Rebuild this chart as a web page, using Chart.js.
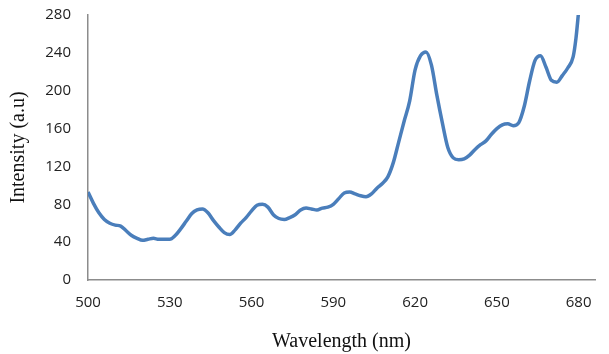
<!DOCTYPE html>
<html>
<head>
<meta charset="utf-8">
<script src="https://cdn.jsdelivr.net/npm/chart.js@4/dist/chart.umd.min.js"></script>
<style>
html,body{margin:0;padding:0;background:#fff;}
#wrap{width:609px;height:354px;position:relative;}
</style>
</head>
<body>
<div id="wrap"><canvas id="c" width="609" height="354"></canvas></div>
<script>
const wavelengths = [500,502,504,506,508,510,512,514,516,518,520,522,524,526,528,530,532,534,536,538,540,542,544,546,548,550,552,554,556,558,560,562,564,566,568,570,572,574,576,578,580,582,584,586,588,590,592,594,596,598,600,602,604,606,608,610,612,614,616,618,620,622,624,626,628,630,632,634,636,638,640,642,644,646,648,650,652,654,656,658,660,662,664,666,668,670,672,674,676,678,679,680];
const intensity = [93,81,71,64,60,58,57,52,47,44,42,43,44,43,43,43,47,54,62,70,74,75,71,63,56,50,48,53,60,66,73,79,80,77,69,65,64,66,69,74,76,75,74,76,77,80,86,92,93,91,89,88,91,97,102,109,124,146,168,189,222,237,241,227,195,166,140,129,127,128,132,138,143,147,154,160,164,165,163,166,183,210,232,237,225,211,209,216,224,236,255,284];
const xTicks = [500,530,560,590,620,650,680];
const yTicks = [0,40,80,120,160,200,240,280];
const xMin = 500, xMax = 686, yMin = 0, yMax = 280;

const points = wavelengths.map((w,i)=>({x:w,y:intensity[i]}));
const axisColor = '#8c8c8c';
const tickFont = {family:'"Open Sans", sans-serif', size:15};
const titleFont = {family:'"Liberation Serif", "Times New Roman", serif', size:20};

new Chart(document.getElementById('c'), {
  type:'scatter',
  data:{datasets:[{
    data:points,
    showLine:true,
    borderColor:'#4a7ebb',
    borderWidth:3.5,
    pointRadius:0,
    tension:0.4,
    cubicInterpolationMode:'monotone',
    fill:false
  }]},
  options:{
    responsive:false,
    animation:false,
    layout:{padding:{top:15,right:14,left:0,bottom:0}},
    plugins:{legend:{display:false},tooltip:{enabled:false},title:{display:false}},
    scales:{
      x:{
        type:'linear',min:xMin,max:xMax,
        afterBuildTicks:(s)=>{s.ticks = xTicks.map(v=>({value:v}));},
        afterFit:(s)=>{s.height=74; s.paddingLeft=0; s.paddingRight=0;},
        grid:{display:false,drawTicks:false},
        border:{display:true,color:axisColor,width:1.5},
        ticks:{font:tickFont,color:'#222',padding:14,maxRotation:0,autoSkip:false},
        title:{display:true,text:'Wavelength (nm)',font:titleFont,color:'#111',padding:{top:4,bottom:0}}
      },
      y:{
        min:yMin,max:yMax,
        afterBuildTicks:(s)=>{s.ticks = yTicks.map(v=>({value:v}));},
        afterFit:(s)=>{s.width=88; s.paddingTop=0; s.paddingBottom=0;},
        grid:{display:false,drawTicks:false},
        border:{display:true,color:axisColor,width:1.5},
        ticks:{font:tickFont,color:'#222',padding:17,autoSkip:false},
        title:{display:true,text:'Intensity (a.u)',font:titleFont,color:'#111',padding:{top:7,bottom:0}}
      }
    }
  }
});
</script>
</body>
</html>
